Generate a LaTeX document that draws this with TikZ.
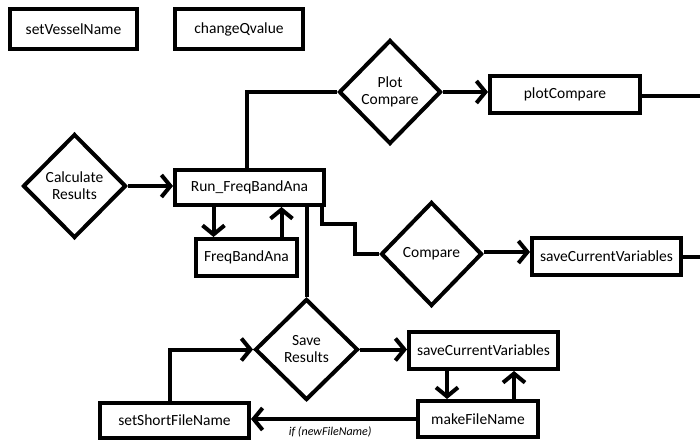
\documentclass[tikz,border=0pt]{standalone}
\usepackage{fontspec}
\setmainfont{Carlito}
\usetikzlibrary{shapes.geometric,arrows.meta}

\tikzset{
	box/.style={draw, line width=4pt, rectangle, inner sep=2pt,
		font=\fontsize{15.5}{17}\selectfont},
	entscheidung/.style={draw, line width=4pt, diamond, aspect=1, inner sep=0pt,
		align=center, font=\fontsize{15.5}{17}\selectfont},
	linie/.style={line width=4pt},
	pfeil/.style={line width=4pt, -{Straight Barb[length=9pt,width=22pt]}},
}

\begin{document}
\begin{tikzpicture}[x=1pt, y=-1pt]
		\useasboundingbox (0,0) rectangle (700,444);
		% Funktionen oben
		\node[box, minimum width=127, minimum height=40] (vessel) at (73.5,29) {setVesselName};
		\node[box, minimum width=128, minimum height=40] (qvalue) at (239,29) {changeQvalue};
		% Entscheidungen
		\node[entscheidung, minimum width=103, minimum height=104] (calc) at (74.5,186) {Calculate\\Results};
		\node[entscheidung, minimum width=102, minimum height=104] (plot) at (390,92) {Plot\\Compare};
		\node[entscheidung, minimum width=101, minimum height=104] (comp) at (431.5,254) {Compare};
		\node[entscheidung, minimum width=103, minimum height=101] (save) at (306.5,349.5) {Save\\Results};
		% Funktionen
		\node[box, minimum width=149, minimum height=35] (run) at (249.5,187.5) {Run\_FreqBandAna};
		\node[box, minimum width=101, minimum height=37] (fba) at (246.5,257.5) {FreqBandAna};
		\node[box, minimum width=150, minimum height=37] (pcomp) at (565,94.5) {plotCompare};
		\node[box, minimum width=149, minimum height=37] (scvA) at (606.5,256.5) {saveCurrentVariables};
		\node[box, minimum width=149, minimum height=37] (scvB) at (483.5,350.5) {saveCurrentVariables};
		\node[box, minimum width=120, minimum height=36] (mfn) at (478,419) {makeFileName};
		\node[box, minimum width=149, minimum height=35] (sfn) at (174.5,420.5) {setShortFileName};
		% Rand
		\coordinate (rand) at (702,0);
		% Verbindungen
		\draw[pfeil] (calc.east) -- (calc.east -| run.west);
		\draw[linie] ([xshift=-2.5pt]run.north) |- (plot.west);
		\draw[pfeil] (plot.east) -- (plot.east -| pcomp.west);
		\draw[linie] ([yshift=-1.5pt]pcomp.east) -- ([yshift=-1.5pt]pcomp.east -| rand);
		\draw[pfeil] ([xshift=-36pt]run.south) -- ([xshift=-36pt]run.south |- fba.north);
		\draw[pfeil] ([xshift=35pt]fba.north) -- ([xshift=35pt]fba.north |- run.south);
		\draw[linie] (save.north |- run.south) -- (save.north);
		\draw[linie] ([xshift=72pt]run.south) -- ++(0,17) -| ([xshift=-24pt]comp.west) -- (comp.west);
		\draw[pfeil] ([yshift=2pt]comp.east) -- ([yshift=2pt]comp.east -| scvA.west);
		\draw[linie] (scvA.east) -- (scvA.east -| rand);
		\draw[pfeil] (save.east) -- (save.east -| scvB.west);
		\draw[pfeil] ([xshift=-36.5pt]scvB.south) -- ([xshift=-36.5pt]scvB.south |- mfn.north);
		\draw[pfeil] ([xshift=36pt]mfn.north) -- ([xshift=36pt]mfn.north |- scvB.south);
		\draw[pfeil] (mfn.west) -- (mfn.west -| sfn.east)
			node[pos=0.52, below=2pt, font=\fontsize{12}{13}\selectfont\itshape] {if (newFileName)};
		\draw[pfeil] ([xshift=-4.5pt]sfn.north) |- (save.west);
	\end{tikzpicture}
\end{document}
